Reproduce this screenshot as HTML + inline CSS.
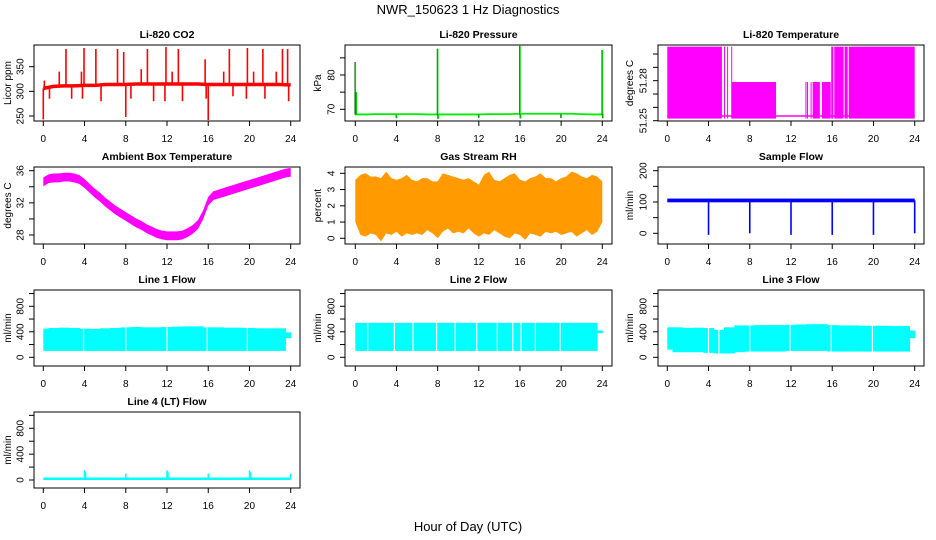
<!DOCTYPE html>
<html><head><meta charset="utf-8">
<style>
html,body{margin:0;padding:0;background:#fff;}
svg{display:block;font-family:"Liberation Sans",Arial,sans-serif;}
.tl{font-size:10px;fill:#000;}
.ti{font-size:10.5px;font-weight:bold;fill:#000;}
</style></head>
<body>
<svg id="chart" width="936" height="540" viewBox="0 0 936 540" xmlns="http://www.w3.org/2000/svg">
<text x="468" y="14" text-anchor="middle" font-size="13">NWR_150623  1 Hz Diagnostics</text>
<text x="468" y="531" text-anchor="middle" font-size="13">Hour of Day (UTC)</text>
</svg>
<script>
// ---------- data ----------
const hourTicks = [0,4,8,12,16,20,24];
const co2Hours = [0,1,2,3,4,5,6,7,8,9,10,11,12,13,14,15,16,17,18,19,20,21,22,23,24];
const co2Base = [306,310,311,311,312,312,314,314,314,315,315,315,315,315,315,315,314,314,314,314,314,314,314,314,313];
const co2SpikeT = [2.2,3.95,5.1,7.2,7.8,10.1,11.9,13.1,18.05,19.8,21.3,23.2,23.7,1.55,3.7,9.5,12.5,17.5,20.4,22.6,15.7,0,8.0,16.0,0.6,2.75,3.8,5.6,8.5,10.7,11.8,13.5,18.4,19.7,21.5,23.8,15.8,0.1];
const co2SpikeV = [386,388,386,386,380,386,390,386,386,388,386,386,386,340,340,345,340,340,340,340,365,243,248,242,285,285,285,280,285,280,280,280,290,285,285,280,285,322];
const presBase = [68.5,68.5,68.6,68.6,68.6,68.6,68.6,68.5,68.5,68.5,68.5,68.5,68.5,68.6,68.6,68.6,68.7,68.7,68.7,68.7,68.7,68.7,68.6,68.5,68.5];
const presSpikeT = [0,8,16,24,0.1,4,8.05,12,16.05,20,24.05];
const presSpikeV = [83.8,87.7,88.5,87.3,75,67.4,67.2,67.5,67.3,67.4,67.4];
const tempBlockStart = [0,5.5,5.8,6.2,6.25,10.4,13.4,13.55,13.9,14.1,15.0,15.2,15.9,16.2,17.2,17.6];
const tempBlockEnd =   [5.3,5.55,5.85,6.25,10.4,10.55,13.5,13.65,14.0,14.8,15.2,15.85,16.1,17.1,17.5,24];
const tempBlockTop =   [51.3055,51.3055,51.3055,51.3055,51.279,51.279,51.279,51.279,51.279,51.279,51.279,51.279,51.3055,51.3055,51.3055,51.3055];
const tempLow = 51.2516;
const tempValley = 51.2535;
const ambHours = [0,0.5,1,1.5,2,2.5,3,3.5,4,4.5,5,5.5,6,6.5,7,7.5,8,8.5,9,9.5,10,10.5,11,11.5,12,12.5,13,13.5,14,14.5,15,15.5,16,16.5,17,17.5,18,18.5,19,19.5,20,20.5,21,21.5,22,22.5,23,23.5,24];
const ambTemp = [34.6,35.0,35.1,35.1,35.2,35.2,35.1,34.9,34.4,33.8,33.2,32.7,32.1,31.6,31.1,30.7,30.3,29.9,29.5,29.2,28.8,28.5,28.2,28.0,27.9,27.9,27.9,28.0,28.3,28.7,29.3,30.5,32.2,32.9,33.1,33.3,33.5,33.7,33.9,34.1,34.3,34.5,34.7,34.9,35.1,35.3,35.5,35.7,35.8];
const rhHi = [3.6,3.9,4.0,3.8,3.8,3.7,4.1,3.7,3.6,3.7,3.9,3.6,3.5,3.7,3.7,3.5,3.5,4.0,3.9,3.8,3.7,3.6,3.7,3.5,3.3,3.9,4.1,3.6,3.5,3.7,3.9,4.0,3.6,3.5,3.7,3.8,4.0,3.7,3.7,3.5,3.7,3.8,4.1,4.0,3.8,3.7,3.9,3.8,3.5];
const rhLo = [1.0,0.2,0.1,0.3,0.2,-0.2,0.3,0.2,0.4,0.1,0.3,0.2,0.3,0.2,0.5,0.3,0.0,0.4,0.6,0.3,0.4,0.3,0.6,0.3,0.1,0.3,0.2,0.5,0.3,0.1,0.0,0.3,0.2,-0.1,0.3,0.2,0.1,0.4,0.3,0.4,0.2,0.3,0.4,0.1,0.3,0.5,0.2,0.4,1.0];
const sampleBase = 105;
const sampleDropT = [4,8,12,16,20,24];
const sampleDropV = [-5,0,-5,-5,-5,0];
const flowHours = [0,1,2,3,4,5,6,7,8,9,10,11,12,13,14,15,16,17,18,19,20,21,22,23,24];
const line1Hi = [450,460,465,460,450,445,455,460,470,475,470,470,475,480,485,485,470,470,465,465,460,455,455,455,390];
const line1Lo = [100,100,100,100,100,100,100,100,100,100,100,100,100,100,100,100,100,100,100,100,100,100,100,100,300];
const line1Gaps = [3.9,8.0,12.0,15.9,19.8];
const line2Hi = [540,540,540,540,540,540,540,540,540,540,540,540,540,540,540,540,540,540,540,540,540,540,540,540,420];
const line2Lo = [100,100,100,100,100,100,100,100,100,100,100,100,100,100,100,100,100,100,100,100,100,100,100,100,380];
const line2Gaps = [1.2,3.8,5.6,7.9,9.7,11.8,13.8,15.3,16.1,17.5,19.9];
const line3Hi = [470,470,460,465,460,430,470,500,500,505,505,505,510,515,520,520,505,500,500,495,495,495,490,490,420];
const line3Lo = [120,80,80,80,70,60,60,80,90,90,90,90,100,100,100,100,90,90,90,90,90,90,90,90,300];
const line3Gaps = [4.0,5.0,8.0,11.9,15.9,19.9];
const line4Base = 20;
const line4SpikeT = [4,12,20,8,16,24,4.1,12.1,20.1];
const line4SpikeV = [150,150,150,100,100,100,120,120,120];

// ---------- layout ----------
const NS = "http://www.w3.org/2000/svg";
const svg = document.getElementById("chart");
const cols = [{l:34,r:300,x0:43.3,x24:290.7,ylt:20,yat:8},{l:345,r:612,x0:355.3,x24:602.3,ylt:331,yat:318},{l:658,r:924,x0:667.3,x24:914.7,ylt:643,yat:630}];
const rows = [{t:45,b:121},{t:167,b:244},{t:290,b:366},{t:412,b:488}];

function mk(tag, parent){ const e=document.createElementNS(NS,tag); (parent||svg).appendChild(e); return e; }
function set(e, o){ for(const k in o) e.setAttribute(k,o[k]); return e; }

function panel(ci, ri, title, ylab, v1, p1, v2, p2, ticks, labels, name){
  const c=cols[ci], r=rows[ri];
  const sx = t => c.x0 + t*(c.x24-c.x0)/24;
  const sy = v => p1 + (v-v1)*(p2-p1)/(v2-v1);
  const g = mk("g");
  
  
  const clipId = "clip"+ci+ri;
  const cp = set(mk("clipPath", g), {id:clipId});
  set(mk("rect", cp), {x:c.l, y:r.t, width:c.r-c.l, height:r.b-r.t});
  const plot = set(mk("g", g), {"clip-path":"url(#"+clipId+")"});
  
  
  const tt = set(mk("text", g), {x:(c.l+c.r)/2, y:r.t-7, "text-anchor":"middle", class:"ti"});
  tt.textContent = title;
  
  
  const yl = set(mk("text", g), {x:c.yat, y:(r.t+r.b)/2, "text-anchor":"middle", class:"tl", transform:"rotate(-90 "+(c.yat)+" "+((r.t+r.b)/2)+")", dy:"3"});
  yl.textContent = ylab;
  
  
  const xa = mk("g", g);
  
  
  hourTicks.forEach(h=>{
    set(mk("line", xa), {x1:sx(h), x2:sx(h), y1:r.b, y2:r.b+5, stroke:"#000"});
    const t = set(mk("text", xa), {x:sx(h), y:r.b+21, "text-anchor":"middle", class:"tl"});
    t.textContent = h;
  });
  const ya = mk("g", g);
  
  
  ticks.forEach((v,i)=>{
    const y = sy(v);
    set(mk("line", ya), {x1:c.l-5, x2:c.l, y1:y, y2:y, stroke:"#000"});
    if(labels[i]!==""){
      const t = set(mk("text", ya), {x:c.ylt, y:y, "text-anchor":"middle", class:"tl", transform:"rotate(-90 "+c.ylt+" "+y+")", dy:"3.5"});
      t.textContent = labels[i];
    }
  });
  const box = set(mk("rect", g), {x:c.l, y:r.t, width:c.r-c.l, height:r.b-r.t, fill:"none", stroke:"#000"});
  
  
  return {plot, sx, sy};
}

function polyline(p, xs, ys, sx, sy, col, w){
  set(mk("polyline", p), {points: xs.map((t,i)=>sx(t)+","+sy(ys[i])).join(" "), fill:"none", stroke:col, "stroke-width":w});
}
function vline(p, x, ya, yb, col, w){
  set(mk("line", p), {x1:x, x2:x, y1:ya, y2:yb, stroke:col, "stroke-width":w});
}
function areaPoly(p, hours, hi, lo, sx, sy, fill){
  const top = hours.map((t,i)=>sx(t)+","+sy(hi[i]));
  const bot = hours.map((t,i)=>sx(t)+","+sy(lo[i])).reverse();
  set(mk("polygon", p), {points: top.concat(bot).join(" "), fill:fill});
}
function band(p, hours, hi, lo, sx, sy, fill){
  const n = hours.length;
  for(let i=0;i<n;i++){
    const a = i===0 ? hours[0] : (hours[i-1]+hours[i])/2;
    const b = i===n-1 ? hours[n-1] : (hours[i]+hours[i+1])/2;
    const x1=sx(a), x2=sx(b)+0.5;
    set(mk("rect", p), {x:x1, y:sy(hi[i]), width:Math.max(1.5,x2-x1), height:sy(lo[i])-sy(hi[i]), fill:fill});
  }
}
function interp(xs, ys, t){
  for(let i=0;i<xs.length-1;i++){ if(t<=xs[i+1]){ const f=(t-xs[i])/(xs[i+1]-xs[i]); return ys[i]+f*(ys[i+1]-ys[i]); } }
  return ys[ys.length-1];
}

// CO2
let P = panel(0,0,"Li-820 CO2","Licor ppm",250,116,350,66.7,[250,300,350],["250","300","350"],"co2");
co2SpikeT.forEach((t,i)=>vline(P.plot, P.sx(t), P.sy(interp(co2Hours,co2Base,t)), P.sy(co2SpikeV[i]), "#ff0000", 1.6));
polyline(P.plot, co2Hours, co2Base, P.sx, P.sy, "#ff0000", 3.5);

// Pressure
P = panel(1,0,"Li-820 Pressure","kPa",70,109.3,80,75,[70,75,80,85],["70","","80",""],"pressure");
polyline(P.plot, co2Hours, presBase, P.sx, P.sy, "#00ee00", 1.8);
presSpikeT.forEach((t,i)=>{ vline(P.plot, P.sx(t), P.sy(68.5), P.sy(presSpikeV[i]), "#00dd00", 1.6);
  set(mk("line",P.plot),{x1:P.sx(t)-0.5,x2:P.sx(t)-0.5,y1:P.sy(68.5),y2:P.sy(presSpikeV[i]),stroke:"#000","stroke-width":0.7,"stroke-dasharray":"1 1"}); });

// Li-820 temperature
P = panel(2,0,"Li-820 Temperature","degrees C",51.25,120.7,51.30,54,[51.25,51.26,51.27,51.28,51.29,51.30],["51.25","","","51.28","",""],"li820-temp");
set(mk("line",P.plot),{x1:P.sx(0),x2:P.sx(24),y1:P.sy(tempValley),y2:P.sy(tempValley),stroke:"#ff00ff","stroke-width":1.5});
tempBlockStart.forEach((s,i)=>{
  const x1=P.sx(s), x2=P.sx(tempBlockEnd[i]);
  set(mk("rect",P.plot),{x:x1,y:P.sy(tempBlockTop[i]),width:Math.max(1,x2-x1),height:P.sy(tempLow)-P.sy(tempBlockTop[i]),fill:"#ff00ff"});
});

// Ambient box temp
P = panel(0,1,"Ambient Box Temperature","degrees C",28,235,36,170.7,[28,30,32,34,36],["28","","32","","36"],"ambient-temp");
areaPoly(P.plot, ambHours, ambTemp.map(v=>v+0.55), ambTemp.map(v=>v-0.55), P.sx, P.sy, "#ff00ff");

// Gas stream RH
P = panel(1,1,"Gas Stream RH","percent",0,238.3,4,173.3,[0,1,2,3,4],["0","1","2","3","4"],"gas-rh");
areaPoly(P.plot, ambHours, rhHi, rhLo, P.sx, P.sy, "#ff9a00");

// Sample flow
P = panel(2,1,"Sample Flow","ml/min",0,233.3,200,170.7,[0,50,100,150,200],["0","","100","","200"],"sample-flow");
set(mk("rect",P.plot),{x:P.sx(0),y:P.sy(sampleBase+6),width:P.sx(24)-P.sx(0),height:P.sy(sampleBase-6)-P.sy(sampleBase+6),fill:"#0000ff"});
sampleDropT.forEach((t,i)=>vline(P.plot, P.sx(t), P.sy(sampleBase), P.sy(sampleDropV[i]), "#0000ff", 1.6));

// Line flows
const flowTicks=[0,200,400,600,800,1000], flowLabels=["0","","400","","800",""];
function flowPanel(ci,ri,title,ylab,hi,lo,gaps,name){
  const Q = panel(ci,ri,title,ylab,0,357.3,800,306.3,flowTicks,flowLabels,name);
  band(Q.plot, flowHours, hi, lo, Q.sx, Q.sy, "#00ffff");
  gaps.forEach(t=>vline(Q.plot, Q.sx(t), Q.sy(600), Q.sy(-50), "#ffffff", 1.2));
}
flowPanel(0,2,"Line 1 Flow","ml/min",line1Hi,line1Lo,line1Gaps,"line1-flow");
flowPanel(1,2,"Line 2 Flow","ml/min",line2Hi,line2Lo,line2Gaps,"line2-flow");
flowPanel(2,2,"Line 3 Flow","ml/min",line3Hi,line3Lo,line3Gaps,"line3-flow");

// Line 4
P = panel(0,3,"Line 4 (LT) Flow","ml/min",0,480,800,428.3,flowTicks,flowLabels,"line4-flow");
set(mk("line",P.plot),{x1:P.sx(0),x2:P.sx(24),y1:P.sy(line4Base),y2:P.sy(line4Base),stroke:"#00ffff","stroke-width":2.5});
line4SpikeT.forEach((t,i)=>vline(P.plot, P.sx(t), P.sy(line4Base), P.sy(line4SpikeV[i]), "#00ffff", 1.5));
</script>
</body></html>
